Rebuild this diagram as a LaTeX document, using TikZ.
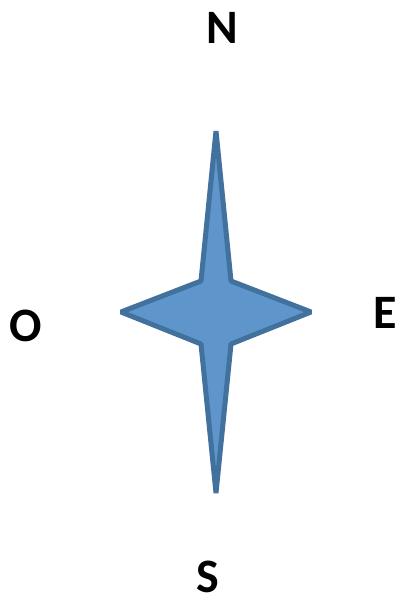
\documentclass[tikz,border=0pt]{standalone}
\usepackage{fontspec}
\setmainfont{Carlito}
\definecolor{starfill}{HTML}{5E96CB}
\definecolor{starline}{HTML}{41719C}
\tikzset{
  lbl/.style={font=\fontsize{48}{48}\selectfont\bfseries, inner sep=0pt, anchor=center},
  star/.style={fill=starfill, draw=starline, line width=5pt, line join=bevel}
}
\begin{document}
\begin{tikzpicture}[x=1pt,y=-1pt]
\useasboundingbox (0,0) rectangle (396,605);
\coordinate (tn) at (216,131);
\coordinate (te) at (311,312);
\coordinate (ts) at (216,493);
\coordinate (tw) at (121,312);
\draw[star] (tn) -- (231,281) -- (te) -- (231,344) -- (ts) -- (201,344) -- (tw) -- (201,281) -- cycle;
\node[lbl] (n) at (222,28) {N};
\node[lbl] (e) at (385,313) {E};
\node[lbl] (s) at (208,577) {S};
\node[lbl] (o) at (26,326) {O};
\end{tikzpicture}
\end{document}
